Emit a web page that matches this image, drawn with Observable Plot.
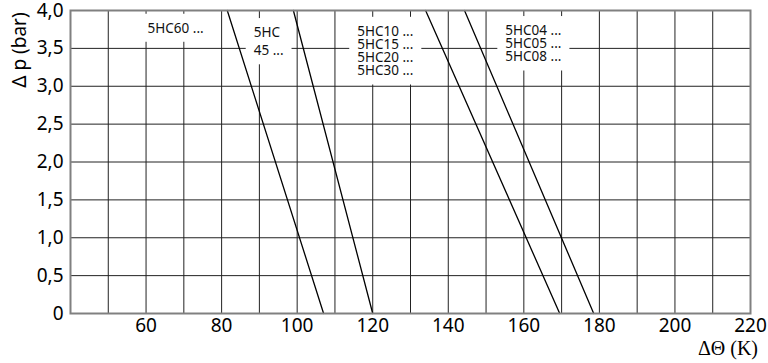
<!DOCTYPE html>
<html><head><meta charset="utf-8">
<script src="https://cdn.jsdelivr.net/npm/d3@7"></script>
<script src="https://cdn.jsdelivr.net/npm/@observablehq/plot@0.6"></script>
<style>body{margin:0;background:#fff} #chart{width:768px;height:363px}</style>
</head><body><div id="chart"></div>
<script>
// Series: each line runs from Δp = 0 to Δp = 4 bar
const seriesNames = ["5HC60", "5HC45", "5HC10-30", "5HC04-08"];
const dpEnds = [0, 4];
const dtAtDp0 = [107, 120, 169.5, 178.5];
const dtAtDp4 = [81.5, 99, 134, 144.3];

// Axis ticks and grid
const xTicks = [60, 80, 100, 120, 140, 160, 180, 200, 220];
const yTicks = [0, 0.5, 1, 1.5, 2, 2.5, 3, 3.5, 4];
const xGrid = [50, 60, 70, 80, 90, 100, 110, 120, 130, 140, 150, 160, 170, 180, 190, 200, 210];
const yGrid = [0.5, 1, 1.5, 2, 2.5, 3, 3.5];

// Annotation labels
const labelTexts = ["5HC60 ...", "5HC\n45 ...", "5HC10 ...\n5HC15 ...\n5HC20 ...\n5HC30 ...", "5HC04 ...\n5HC05 ...\n5HC08 ..."];
const labelDt = [60.4, 88.5, 115.9, 155.1];
const labelDp = [3.83, 3.82, 3.79, 3.80];

const lineRows = [];
seriesNames.forEach((s, i) => {
  lineRows.push({series: s, dt: dtAtDp0[i], dp: dpEnds[0]});
  lineRows.push({series: s, dt: dtAtDp4[i], dp: dpEnds[1]});
});
const labels = labelTexts.map((t, i) => ({text: t, dt: labelDt[i], dp: labelDp[i]}));
const wide = labels.filter(d => d.text.startsWith("5HC\n"));
const tight = labels.filter(d => !d.text.startsWith("5HC\n"));

const fmtY = d => d === 0 ? "0" : d.toFixed(1).replace(".", ",");
const ink = {x: "dt", y: "dp", text: "text", textAnchor: "start", lineAnchor: "top",
  fontSize: 13.5, fontFamily: "Noto Sans", fill: "#111"};

const plot = Plot.plot({
  width: 768, height: 363,
  marginLeft: 70, marginRight: 18, marginTop: 10, marginBottom: 50,
  style: {fontFamily: "Noto Sans", fontSize: "19px", color: "#000", background: "#fff"},
  x: {domain: [40, 220]},
  y: {domain: [0, 4]},
  marks: [
    Plot.ruleX(xGrid, {stroke: "#222", strokeWidth: 1}),
    Plot.ruleY(yGrid, {stroke: "#222", strokeWidth: 1}),
    Plot.text(tight, {...ink, lineHeight: 0.98}),
    Plot.text(wide, {...ink, lineHeight: 1.35}),
    Plot.line(lineRows, {x: "dt", y: "dp", z: "series", stroke: "#000", strokeWidth: 1.3}),
    Plot.frame({stroke: "#808080", strokeWidth: 2}),
    Plot.axisX({ticks: xTicks, tickSize: 0, tickPadding: 5, tickFormat: d => String(d), label: null, fontSize: 19}),
    Plot.axisY({ticks: yTicks, tickSize: 0, tickPadding: 7, tickFormat: fmtY, label: null, fontSize: 19})
  ]
});
document.getElementById("chart").appendChild(plot);

const svg = d3.select(plot);
// white boxes behind the annotation labels, sized from the rendered text
svg.selectAll('g[aria-label="text"] text').each(function () {
  const b = this.getBBox();
  const padX = 8, padY = 5;
  const r = document.createElementNS("http://www.w3.org/2000/svg", "rect");
  r.setAttribute("x", b.x - padX);
  r.setAttribute("y", b.y - padY);
  r.setAttribute("width", b.width + 2 * padX);
  r.setAttribute("height", b.height + 2 * padY);
  r.setAttribute("fill", "white");
  const t = this.getAttribute("transform");
  if (t) r.setAttribute("transform", t);
  this.parentNode.insertBefore(r, this);
});

svg.append("text")
  .attr("transform", "translate(26,50) rotate(-90)")
  .attr("text-anchor", "middle")
  .attr("font-family", "Noto Sans")
  .attr("font-size", 19)
  .attr("fill", "#000")
  .text("Δ p (bar)");
svg.append("text")
  .attr("x", 758).attr("y", 355)
  .attr("text-anchor", "end")
  .attr("font-family", "Liberation Serif")
  .attr("font-size", 20)
  .attr("fill", "#000")
  .text("ΔΘ (K)");
</script>
</body></html>
